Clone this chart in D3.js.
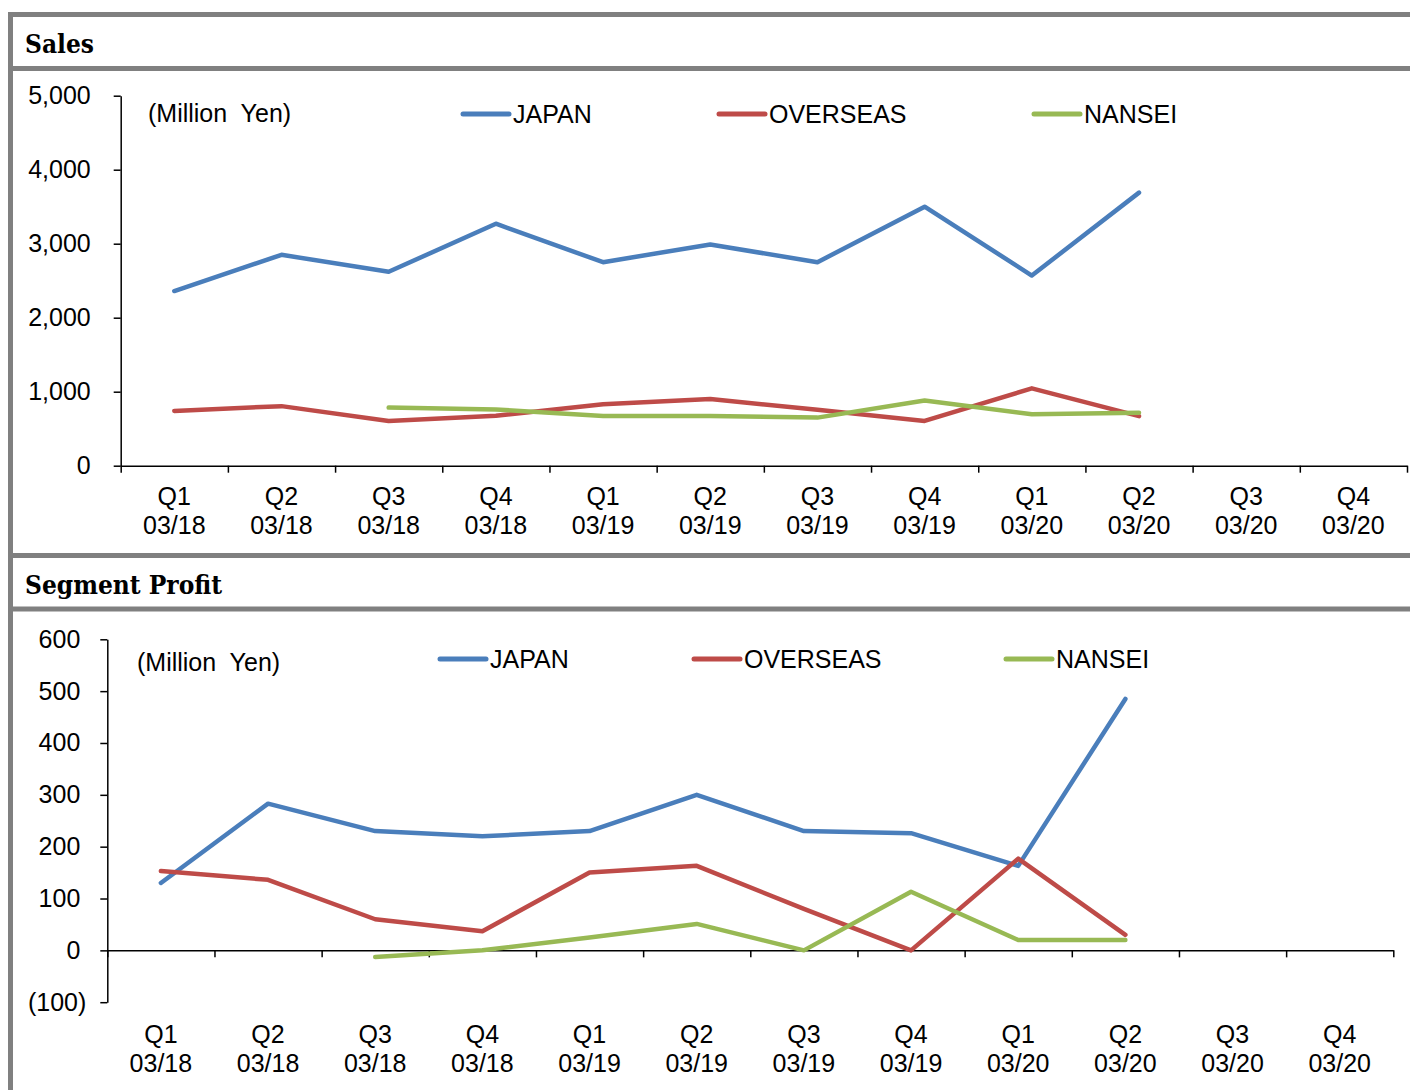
<!DOCTYPE html>
<html>
<head>
<meta charset="utf-8">
<script src="https://cdn.jsdelivr.net/npm/d3@7"></script>
<style>
  body { margin: 0; background: #fff; }
  text { font-family: "Liberation Sans", Arial, sans-serif; }
</style>
</head>
<body>
<div id="chart"></div>
<script>
// categories
var quarters = ["Q1", "Q2", "Q3", "Q4", "Q1", "Q2", "Q3", "Q4", "Q1", "Q2", "Q3", "Q4"];
var years = ["03/18", "03/18", "03/18", "03/18", "03/19", "03/19", "03/19", "03/19", "03/20", "03/20", "03/20", "03/20"];

// sales (million yen)
var salesJapan    = [2360, 2850, 2620, 3270, 2750, 2990, 2750, 3500, 2570, 3690, null, null];
var salesOverseas = [740, 805, 605, 675, 830, 900, 755, 605, 1045, 670, null, null];
var salesNansei   = [null, null, 785, 760, 672, 670, 650, 880, 695, 715, null, null];

// segment profit (million yen)
var profitJapan    = [130, 283, 230, 220, 230, 300, 230, 226, 163, 485, null, null];
var profitOverseas = [153, 136, 60, 37, 150, 163, 80, 0, 177, 30, null, null];
var profitNansei   = [null, null, -13, 0, 25, 51, 0, 113, 20, 20, null, null];

var salesTicks = [0, 1000, 2000, 3000, 4000, 5000];
var profitTicks = [-100, 0, 100, 200, 300, 400, 500, 600];
var seriesNames = ["JAPAN", "OVERSEAS", "NANSEI"];

var colors = ["#4A7EBB", "#BE4B48", "#98B954"];
var grey = "#808080";

var svg = d3.select("#chart")
  .append("svg")
    .attr("width", 1410)
    .attr("height", 1090);

// frame bars
svg.append("rect").attr("x", 8).attr("y", 12).attr("width", 1402).attr("height", 5).attr("fill", grey);
svg.append("rect").attr("x", 8).attr("y", 12).attr("width", 5).attr("height", 1078).attr("fill", grey);
svg.append("rect").attr("x", 8).attr("y", 66).attr("width", 1402).attr("height", 5).attr("fill", grey);
svg.append("rect").attr("x", 8).attr("y", 553).attr("width", 1402).attr("height", 5).attr("fill", grey);
svg.append("rect").attr("x", 8).attr("y", 606.5).attr("width", 1402).attr("height", 5).attr("fill", grey);

// headers
svg.append("text")
  .attr("x", 25).attr("y", 53)
  .style("font-family", "'DejaVu Serif', serif")
  .style("font-stretch", "condensed")
  .attr("font-size", 26).attr("font-weight", "bold")
  .text("Sales");
svg.append("text")
  .attr("x", 25).attr("y", 594)
  .style("font-family", "'DejaVu Serif', serif")
  .style("font-stretch", "condensed")
  .attr("font-size", 26).attr("font-weight", "bold")
  .text("Segment Profit");

function panel(o) {
  var x = d3.scaleBand().domain(d3.range(12)).range([o.x0, o.x1]);
  var xi = d3.scaleLinear().domain([0, 12]).range([o.x0, o.x1]);
  var y = d3.scaleLinear().domain(o.domain).range([o.yBottom, o.yTop]);
  var g = svg.append("g");

  // y axis
  var ya = g.append("g")
    .attr("transform", "translate(" + o.x0 + ",0)")
    .call(d3.axisLeft(y).tickValues(o.ticks).tickSize(7).tickSizeOuter(0)
      .tickPadding(o.pad).tickFormat(o.fmt));
  ya.selectAll("text")
    .attr("font-size", 25).attr("fill", "#000")
    .style("font-family", "'Liberation Sans', Arial, sans-serif")
    .attr("dx", function(d) { return d < 0 ? 6 : 0; });

  // x axis at zero
  g.append("g")
    .attr("transform", "translate(0," + y(0) + ")")
    .call(d3.axisBottom(xi).tickValues(d3.range(13)).tickSize(7).tickSizeOuter(0).tickFormat(""));

  g.selectAll(".domain, .tick line").attr("stroke", "#000").attr("stroke-width", 1.5);

  // category labels
  var lab = g.selectAll(".cat").data(d3.range(12)).enter().append("text")
    .attr("class", "cat")
    .attr("text-anchor", "middle")
    .attr("font-size", 25);
  lab.append("tspan")
    .attr("x", function(i) { return x(i) + x.bandwidth() / 2; })
    .attr("y", o.labY)
    .text(function(i) { return quarters[i]; });
  lab.append("tspan")
    .attr("x", function(i) { return x(i) + x.bandwidth() / 2; })
    .attr("y", o.labY + 29)
    .text(function(i) { return years[i]; });

  // lines
  var line = d3.line()
    .defined(function(d) { return d != null; })
    .x(function(d, i) { return x(i) + x.bandwidth() / 2; })
    .y(function(d) { return y(d); });
  o.series.forEach(function(s, k) {
    g.append("path")
      .datum(s)
      .attr("d", line)
      .attr("fill", "none")
      .attr("stroke", colors[k])
      .attr("stroke-width", 4.5)
      .attr("stroke-linejoin", "round")
      .attr("stroke-linecap", "round");
  });

  // unit note
  g.append("text")
    .attr("x", o.unitX).attr("y", o.unitY)
    .attr("font-size", 25)
    .style("white-space", "pre")
    .text("(Million  Yen)");

  // legend
  seriesNames.forEach(function(n, k) {
    g.append("line")
      .attr("x1", o.legX[k]).attr("x2", o.legX[k] + 46)
      .attr("y1", o.legY).attr("y2", o.legY)
      .attr("stroke", colors[k]).attr("stroke-width", 5)
      .attr("stroke-linecap", "round");
    g.append("text")
      .attr("x", o.legX[k] + 50).attr("y", o.legY + 8.5)
      .attr("font-size", 25)
      .text(n);
  });
}

panel({
  x0: 120.7, x1: 1407, yTop: 95.7, yBottom: 465.7,
  domain: [0, 5000], ticks: salesTicks, pad: 23,
  fmt: d3.format(","),
  labY: 505,
  series: [salesJapan, salesOverseas, salesNansei],
  unitX: 148, unitY: 122, legY: 114, legX: [463, 719, 1034]
});

panel({
  x0: 107.3, x1: 1393.3, yTop: 639.3, yBottom: 1002.2,
  domain: [-100, 600], ticks: profitTicks, pad: 20,
  fmt: function(d) { return d < 0 ? "(" + (-d) + ")" : d; },
  labY: 1043,
  series: [profitJapan, profitOverseas, profitNansei],
  unitX: 137, unitY: 671, legY: 659, legX: [440, 694, 1006]
});
</script>
</body>
</html>
